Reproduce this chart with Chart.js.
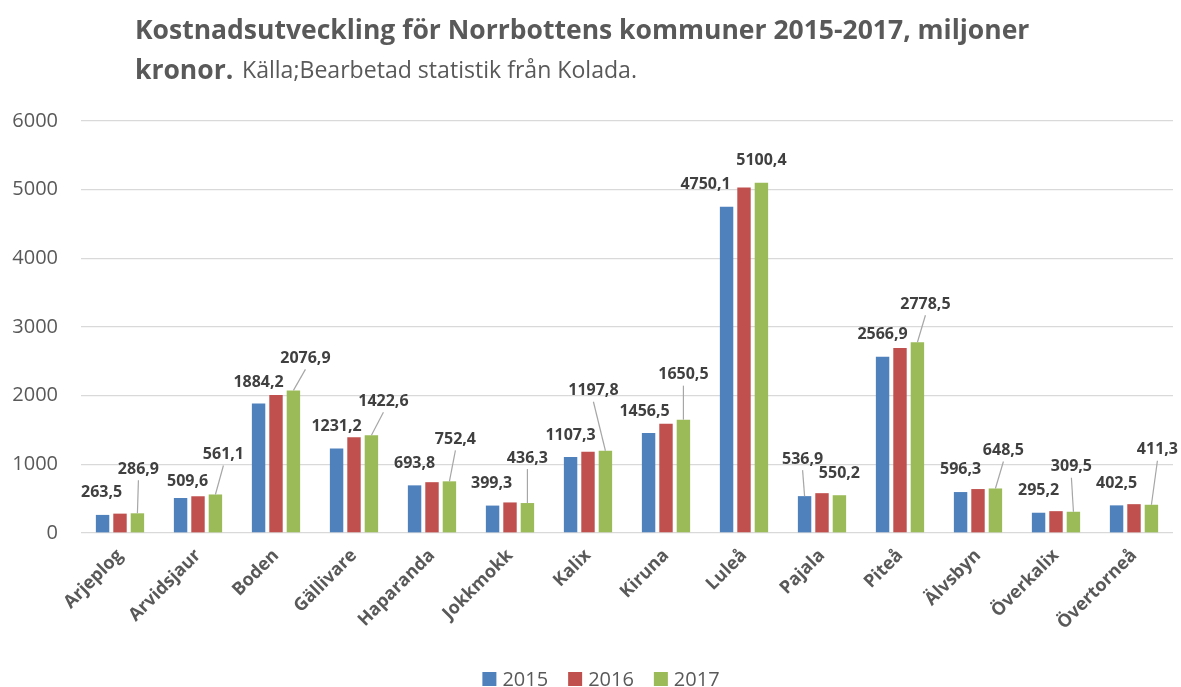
<!DOCTYPE html>
<html>
<head>
<meta charset="utf-8">
<script src="https://cdn.jsdelivr.net/npm/chart.js@4/dist/chart.umd.min.js"></script>
<style>
  html, body { margin: 0; padding: 0; background: #fff; }
  canvas { display: block; }
</style>
</head>
<body>
<canvas id="myChart" width="1181" height="687"></canvas>
<script>
'use strict';

//// Data
const categories = ['Arjeplog', 'Arvidsjaur', 'Boden', 'Gällivare', 'Haparanda', 'Jokkmokk', 'Kalix',
    'Kiruna', 'Luleå', 'Pajala', 'Piteå', 'Älvsbyn', 'Överkalix', 'Övertorneå'];
const years = ['2015', '2016', '2017'];
const values2015 = [263.5, 509.6, 1884.2, 1231.2, 693.8, 399.3, 1107.3, 1456.5, 4750.1, 536.9, 2566.9, 596.3, 295.2, 402.5];
const values2016 = [282, 535, 2010, 1395, 740, 445, 1185, 1590, 5030, 580, 2695, 640, 318, 420];
const values2017 = [286.9, 561.1, 2076.9, 1422.6, 752.4, 436.3, 1197.8, 1650.5, 5100.4, 550.2, 2778.5, 648.5, 309.5, 411.3];
const yTicks = [0, 1000, 2000, 3000, 4000, 5000, 6000];

//// Label nudges (px) : [dx from bar centre, height above bar top]
const nudge2015 = [[-1, 22], [7, 17], [0, 21], [0, 22], [0, 22], [-1, 22], [0, 22], [-4, 22], [-21, 22], [-2, 37], [0, 22], [0, 23], [0, 22], [0, 22]];
const nudge2017 = [[1, 44], [8, 40], [12, 32], [12, 34], [6, 42], [0, 45], [-12, 60], [0, 45], [0, 22], [0, 22], [8, 38], [8, 38], [-2, 45], [6, 55]];

const FONT = "'Open Sans', sans-serif";
const GREY = '#595959';

function fmt(v) {
    return v.toFixed(1).replace('.', ',');
}

// fit a text to a given width
function fitFont(ctx, text, weight, width) {
    ctx.font = weight + ' 100px ' + FONT;
    return 100 * width / ctx.measureText(text).width;
}

//---> Title plugin <---//
const titlePlugin = {
    id: 'titleText',
    afterDraw(chart) {
        const ctx = chart.ctx;
        ctx.save();
        ctx.fillStyle = GREY;
        ctx.textBaseline = 'alphabetic';
        ctx.textAlign = 'left';
        const line1 = 'Kostnadsutveckling för Norrbottens kommuner 2015-2017, miljoner';
        const s1 = fitFont(ctx, line1, 'bold', 895);
        ctx.font = 'bold ' + s1 + 'px ' + FONT;
        ctx.fillText(line1, 135, 39);
        ctx.fillText('kronor.', 135, 79);
        const line2 = 'Källa;Bearbetad statistik från Kolada.';
        const s2 = fitFont(ctx, line2, 'normal', 395);
        ctx.font = s2 + 'px ' + FONT;
        ctx.fillText(line2, 242, 78);
        ctx.restore();
    }
};

//---> Legend plugin (bottom, centred) <---//
const legendPlugin = {
    id: 'bottomLegend',
    afterDraw(chart) {
        const ctx = chart.ctx;
        ctx.save();
        ctx.font = '20px ' + FONT;
        ctx.textBaseline = 'middle';
        ctx.textAlign = 'left';
        const box = 14, gap = 6, space = 20;
        const items = chart.data.datasets.map(function (ds) {
            return { text: ds.label, color: ds.backgroundColor, w: box + gap + ctx.measureText(ds.label).width };
        });
        const total = items.reduce(function (s, it) { return s + it.w; }, 0) + space * (items.length - 1);
        let x = 601 - total / 2;
        const y = 679;
        items.forEach(function (it) {
            ctx.fillStyle = it.color;
            ctx.fillRect(x, y - box / 2, box, box);
            ctx.fillStyle = GREY;
            ctx.fillText(it.text, x + box + gap, y + 1);
            x += it.w + space;
        });
        ctx.restore();
    }
};

//---> Data labels plugin <---//
const labelPlugin = {
    id: 'barLabels',
    afterDatasetsDraw(chart) {
        const ctx = chart.ctx;
        ctx.save();
        ctx.font = 'bold 16px ' + FONT;
        ctx.textAlign = 'center';
        ctx.textBaseline = 'middle';
        [[0, nudge2015], [2, nudge2017]].forEach(function (pair) {
            const meta = chart.getDatasetMeta(pair[0]);
            const vals = chart.data.datasets[pair[0]].data;
            meta.data.forEach(function (bar, i) {
                const dx = pair[1][i][0];
                const dy = pair[1][i][1];
                const lx = bar.x + dx;
                const ly = bar.y - dy;
                if (dy > 30) {
                    ctx.strokeStyle = '#a6a6a6';
                    ctx.lineWidth = 1.2;
                    ctx.beginPath();
                    ctx.moveTo(bar.x, bar.y);
                    ctx.lineTo(lx, ly + 11);
                    ctx.stroke();
                }
                ctx.fillStyle = '#404040';
                ctx.fillText(fmt(vals[i]), lx, ly);
            });
        });
        ctx.restore();
    }
};

//---> CHART <----///
var ctx = document.getElementById('myChart').getContext('2d');

var chart = new Chart(ctx, {
    type: 'bar',
    data: {
        labels: categories,
        datasets: [{
                label: years[0],
                backgroundColor: '#4f81bd',
                data: values2015,
        },
            {
                label: years[1],
                backgroundColor: '#c0504d',
                data: values2016,
        },
            {
                label: years[2],
                backgroundColor: '#9bbb59',
                data: values2017,
        }]
    },
    options: {
        responsive: false,
        animation: false,
        devicePixelRatio: 1,
        categoryPercentage: 0.67,
        barPercentage: 0.77,
        layout: {
            padding: { top: 121, left: 10, right: 8, bottom: 0 }
        },
        plugins: {
            title: { display: false },
            tooltip: { enabled: false },
            legend: { display: false }
        },
        scales: {
            y: {
                min: 0,
                max: 6000,
                afterBuildTicks: function (axis) {
                    axis.ticks = yTicks.map(function (v) { return { value: v }; });
                },
                afterFit: function (axis) {
                    axis.width = 71;
                },
                ticks: {
                    padding: 23,
                    color: GREY,
                    font: { family: FONT, size: 20 },
                    callback: function (v) { return String(v); }
                },
                grid: { color: '#d9d9d9', lineWidth: 1.3, drawTicks: false },
                border: { display: false }
            },
            x: {
                grid: { display: false },
                border: { display: false },
                afterFit: function (axis) {
                    axis.height = 154;
                },
                ticks: {
                    minRotation: 45,
                    maxRotation: 45,
                    padding: 4,
                    color: GREY,
                    font: { family: FONT, size: 18, weight: 'bold' }
                }
            }
        }
    },
    plugins: [titlePlugin, labelPlugin, legendPlugin]
});
</script>
</body>
</html>
